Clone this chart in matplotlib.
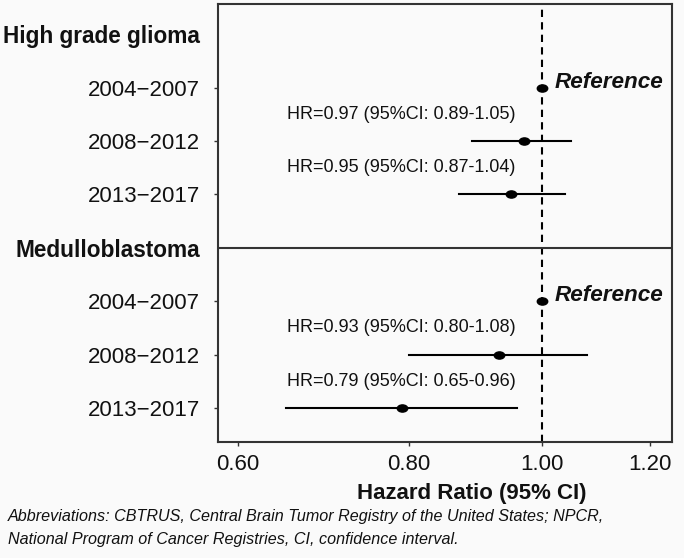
import matplotlib
matplotlib.use("Agg")
import matplotlib.pyplot as plt
import numpy as np
from matplotlib.path import Path

# data
groups = ["High grade glioma", "Medulloblastoma"]
periods = ["2004\u22122007", "2008\u22122012", "2013\u22122017"]
hr = [[1.00, 0.97, 0.95], [1.00, 0.93, 0.79]]
ci_low = [[None, 0.89, 0.87], [None, 0.80, 0.65]]
ci_high = [[None, 1.05, 1.04], [None, 1.08, 0.96]]
xticks = [0.60, 0.80, 1.00, 1.20]
footer = ("Abbreviations: CBTRUS, Central Brain Tumor Registry of the United States; NPCR,\n"
          "National Program of Cancer Registries, CI, confidence interval.")

plt.rcParams['font.family'] = ['Liberation Sans', 'DejaVu Sans']
BG = '#fafafa'
INK = '#111111'

fig = plt.figure(figsize=(6.84, 5.58), dpi=100, facecolor=BG)
ax = fig.add_axes([218 / 684, 1 - 442 / 558, (672 - 218) / 684, (442 - 4) / 558])
ax.set_facecolor(BG)

# elliptical dot like the R plot
circ = Path.unit_circle()
dot = Path(circ.vertices * np.array([1.45, 1.0]), circ.codes)

# build rows from top to bottom
labels, ypos, header = [], [], []
n_rows = len(groups) * (len(periods) + 1)
row = n_rows - 1
for g, name in enumerate(groups):
    labels.append(name)
    ypos.append(row)
    header.append(True)
    if g > 0:
        ax.axhline(row, color='#333333', lw=1.5)
    row -= 1
    for p, per in enumerate(periods):
        labels.append(per)
        ypos.append(row)
        header.append(False)
        h = hr[g][p]
        if ci_low[g][p] is None:
            ax.plot(h, row, marker=dot, ms=7.5, color='black', ls='none', zorder=3)
            ax.annotate("Reference", (h, row), xytext=(9, 4), textcoords='offset points',
                        ha='left', va='center', fontsize=16.2, fontweight='bold',
                        fontstyle='italic', color=INK)
        else:
            ax.plot([ci_low[g][p], ci_high[g][p]], [row, row], color='black', lw=1.5)
            ax.plot(h, row, marker=dot, ms=7.5, color='black', ls='none', zorder=3)
            txt = "HR=%.2f (95%%CI: %.2f-%.2f)" % (h, ci_low[g][p], ci_high[g][p])
            ax.text(0.79, row + 0.5, txt, ha='center', va='center', fontsize=13, color=INK)
        row -= 1

ax.axvline(1.0, color='black', lw=1.5, ls=(0, (3.5, 2.5)), zorder=1)

ax.set_xscale('log')
ax.set_xlim(0.58, 1.245)
ax.set_ylim(-0.64, n_rows - 1 + 0.57)
ax.set_xticks(xticks)
ax.set_xticklabels(["%.2f" % t for t in xticks])
ax.minorticks_off()
ax.set_yticks(ypos)
ax.set_yticklabels(labels)
ax.tick_params(axis='both', length=3, width=1, color='#333333', labelsize=16, labelcolor=INK)
ax.tick_params(axis='y', pad=10)
ax.tick_params(axis='x', pad=6)
for t, lab, is_head in zip(ax.yaxis.get_major_ticks(), ax.get_yticklabels(), header):
    if is_head:
        t.tick1line.set_visible(False)
        lab.set_fontweight('bold')
        lab.set_fontsize(16.3)

for s in ax.spines.values():
    s.set_color('#333333')
    s.set_linewidth(1.5)

fig.text(472 / 684, 1 - 494 / 558, "Hazard Ratio (95% CI)", ha='center', va='center',
         fontsize=16, fontweight='bold', color=INK)
fig.text(8 / 684, 1 - 528 / 558, footer, ha='left', va='center', fontsize=11.6,
         fontstyle='italic', color=INK, linespacing=1.7)

fig.savefig("out.png", dpi=100, facecolor=BG)
